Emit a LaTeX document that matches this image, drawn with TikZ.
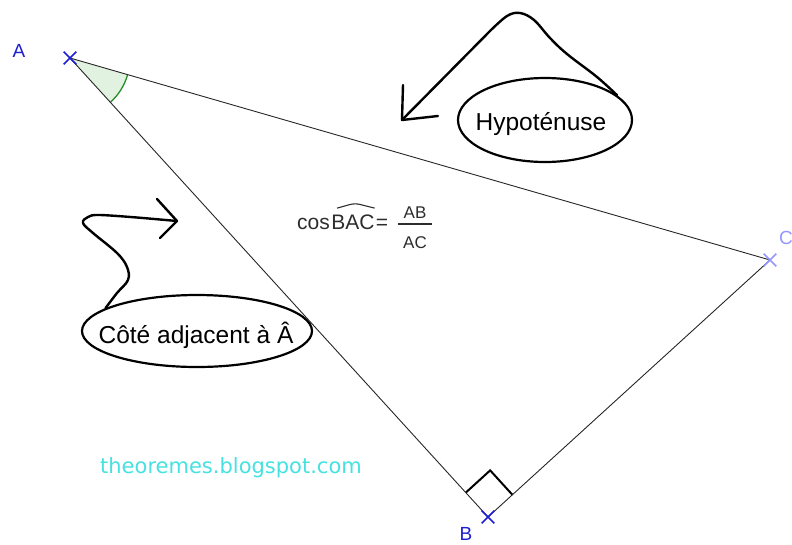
\documentclass[tikz,border=0pt]{standalone}
\usepackage{fontspec}
\setmainfont{Liberation Sans}
\newfontfamily\wmfont{DejaVu Sans}
\usetikzlibrary{shapes.geometric,shapes.misc,calc}
\definecolor{ptblue}{RGB}{30,30,210}
\definecolor{ptlight}{RGB}{150,150,255}
\definecolor{arcgreen}{RGB}{40,140,40}
\definecolor{arcfill}{RGB}{225,242,225}
\definecolor{wmcyan}{RGB}{70,225,225}
\definecolor{formula}{RGB}{45,45,45}
\begin{document}
\begin{tikzpicture}[x=1pt,y=1pt,
  edge/.style={line width=0.9pt,black!85},
  bubble/.style={ellipse,draw,line width=2.2pt,inner sep=0pt},
  bubbletext/.style={inner sep=0pt,anchor=base,font=\fontsize{24.5}{28}\selectfont},
  squiggle/.style={line width=2.4pt,line cap=round,line join=round},
  ptcross/.style={cross out,draw,line width=1.6pt,minimum size=11pt,inner sep=0pt},
  ptlabel/.style={font=\fontsize{19}{22}\selectfont},
  ftext/.style={inner sep=0pt,anchor=base west,text=formula,font=\fontsize{21}{24}\selectfont},
  fsmall/.style={inner sep=0pt,anchor=base,text=formula,font=\fontsize{17}{20}\selectfont}]
\useasboundingbox (0,0) rectangle (792,-544);
% points
\coordinate (A) at (70,-58);
\coordinate (B) at (488,-517);
\coordinate (C) at (770,-260);
% angle at A
\fill[arcfill] (A) -- ($(A)+(-16.1:60)$) arc[start angle=-16.1,end angle=-47.7,radius=60] -- cycle;
\draw[arcgreen,line width=1.3pt] ($(A)+(-16.1:60)$) arc[start angle=-16.1,end angle=-47.7,radius=60];
% right angle at B
\coordinate (P1) at ($(B)!33pt!(A)$);
\coordinate (P3) at ($(B)!33pt!(C)$);
\coordinate (P2) at ($(P1)+(P3)-(B)$);
\draw[line width=2pt,line join=miter] (P1) -- (P2) -- (P3);
% triangle
\draw[edge] (A) -- (B) -- (C) -- cycle;
% markers
\node[ptcross,draw=ptblue] (mA) at (A) {};
\node[ptcross,draw=ptblue] (mB) at (B) {};
\node[ptcross,draw=ptlight] (mC) at (C) {};
\node[ptlabel,text=ptblue] (lA) at (19,-51) {A};
\node[ptlabel,text=ptblue] (lB) at (466,-534) {B};
\node[ptlabel,text=ptlight] (lC) at (786,-238) {C};
% formula
\node[ftext] (fcos) at (297,-229) {cos};
\node[ftext] (fbac) at ($(fcos.base east)+(1,0)$) {BAC};
\node[ftext] (feq) at ($(fbac.base east)+(1,0)$) {=};
\node[fsmall] (fab) at (415,-218) {AB};
\node[fsmall] (fac) at (415,-248) {AC};
\coordinate (barL) at (398,-224);
\coordinate (barR) at (432,-224);
\draw[formula,line width=1.1pt] (barL) -- (barR);
\draw[formula,line width=1.1pt,rounded corners=5pt]
  ($(fbac.north west)+(6,6)$) -- ($(fbac.north)+(2,11)$) -- ($(fbac.north east)+(0,6)$);
% bubbles
\node[bubble,minimum width=174pt,minimum height=84pt] (hyp) at (545,-120) {};
\node[bubbletext] (hyptext) at (541,-130) {Hypoténuse};
\node[bubble,minimum width=230pt,minimum height=72pt] (cote) at (197,-331) {};
\node[bubbletext] (cotetext) at (196,-343) {Côté adjacent à Â};
% hypotenuse arrow
\coordinate (hyptip) at (402,-120);
\draw[squiggle] plot[smooth,tension=0.6] coordinates {(hyp.19) (597,-77) (567,-54) (550,-38) (534,-20) (520,-13) (507,-16) (490,-31)} -- (hyptip);
\draw[squiggle] (hyptip) -- ++(1,35);
\draw[squiggle] (hyptip) -- ++(36,4);
% adjacent arrow
\coordinate (cotetip) at (177,-221);
\draw[squiggle] plot[smooth,tension=0.6] coordinates {(cote.166) (117,-293) (128,-280) (127,-267) (117,-253) (93,-233) (83,-223) (88,-217) (100,-215) (143,-218)} -- (cotetip);
\draw[squiggle] (cotetip) -- ++(-20,22);
\draw[squiggle] (cotetip) -- ++(-17,-17);
% watermark
\node[text=wmcyan,font=\wmfont\fontsize{21}{24}\selectfont] (wm) at (231,-468) {theoremes.blogspot.com};
\end{tikzpicture}
\end{document}
